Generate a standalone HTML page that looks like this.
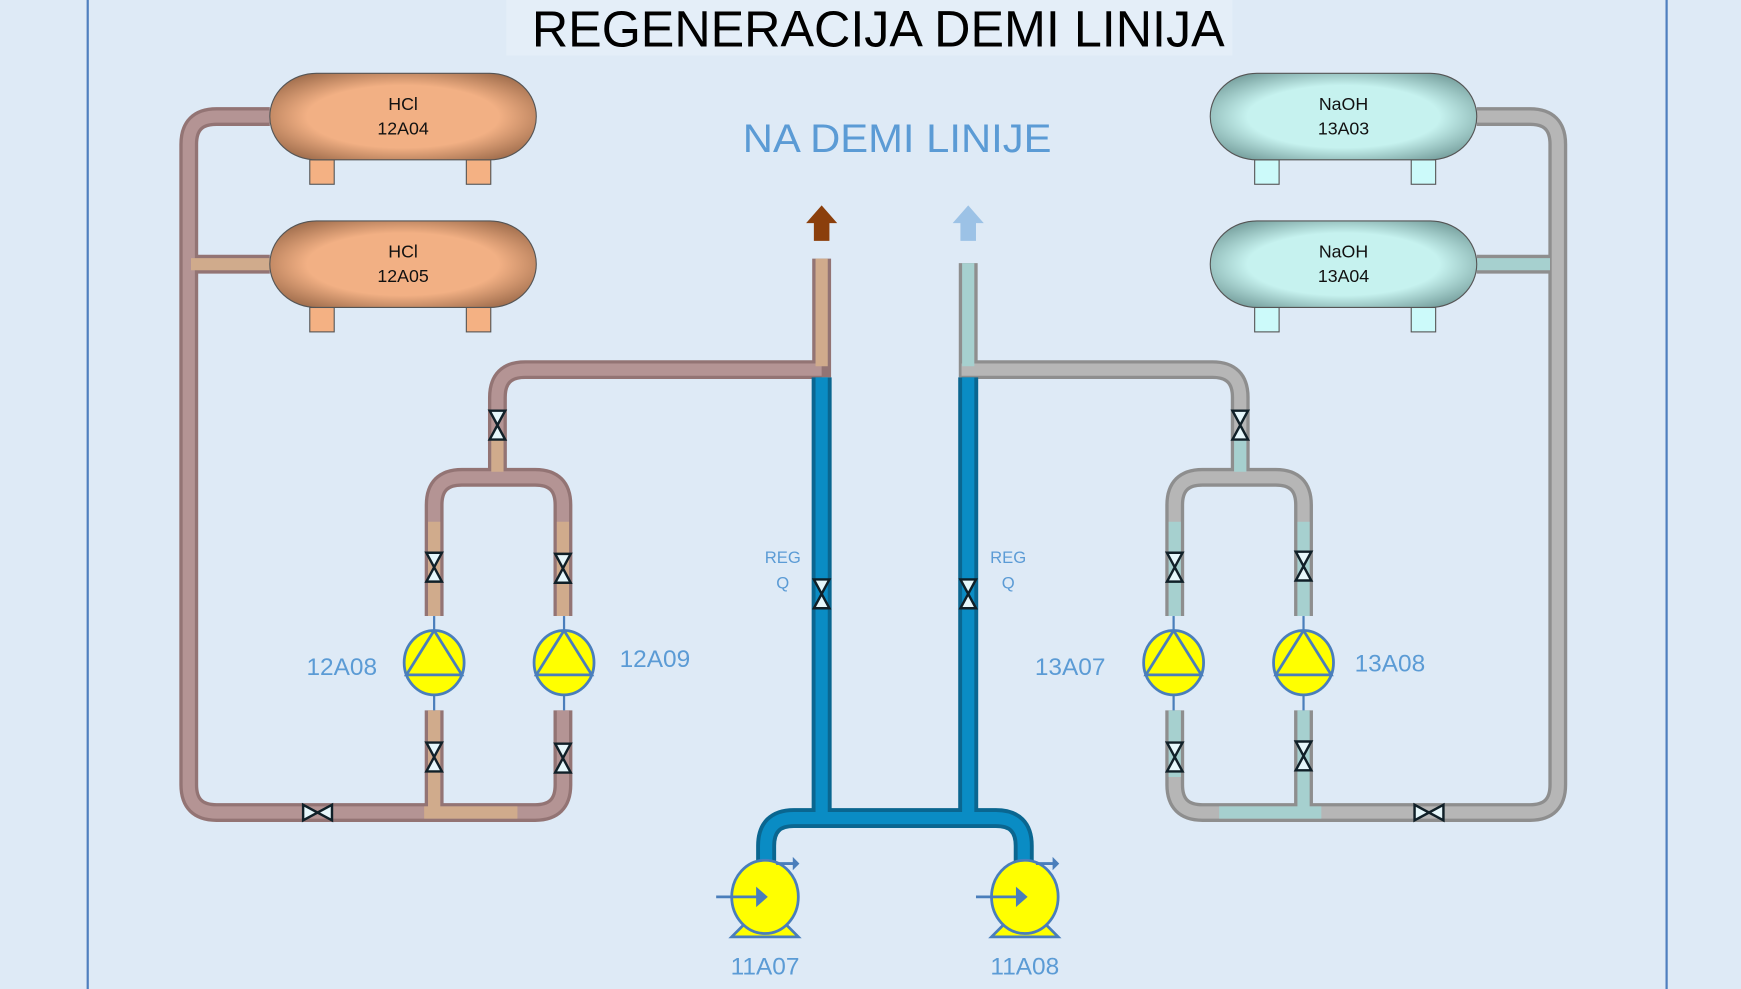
<!DOCTYPE html>
<html><head><meta charset="utf-8"><style>html,body{margin:0;padding:0;background:#deeaf6}svg{display:block}</style></head>
<body>
<svg width="1741" height="989" viewBox="0 0 1568 891" preserveAspectRatio="none" xmlns="http://www.w3.org/2000/svg" font-family="'Liberation Sans', sans-serif">
<defs>
<radialGradient id="hcl" cx="0.5" cy="0.5" r="0.6"><stop offset="0.6" stop-color="#f2b084"/><stop offset="1" stop-color="#a3704f"/></radialGradient>
<radialGradient id="naoh" cx="0.5" cy="0.5" r="0.6"><stop offset="0.6" stop-color="#c6f2ef"/><stop offset="1" stop-color="#7aa3a1"/></radialGradient>
<g id="vv"><path d="M-7,-13 L7,-13 L-7,13 L7,13 Z" fill="#e6f7fb" stroke="#102028" stroke-width="2.2" stroke-linejoin="miter"/></g>
<g id="vh"><path d="M-13,-7 L-13,7 L13,-7 L13,7 Z" fill="#e6f7fb" stroke="#102028" stroke-width="2.2"/></g>
<g id="pump"><ellipse cx="0" cy="0" rx="27" ry="29" fill="#ffff00" stroke="#4a7ebb" stroke-width="2.5"/><path d="M0,-29 L-25,11 L25,11 Z" fill="none" stroke="#4a7ebb" stroke-width="2.5"/></g>
<g id="cpump"><path d="M-30,36 L-16,22 L16,22 L30,36 Z" fill="#ffff00" stroke="#4a7ebb" stroke-width="2.5"/><ellipse cx="0" cy="0" rx="30" ry="33" fill="#ffff00" stroke="#4a7ebb" stroke-width="2.5"/><path d="M-44,0 L0,0" stroke="#4a7ebb" stroke-width="2.5"/><path d="M-7,-7 L1,0 L-7,7 Z" fill="#4a7ebb" stroke="#4a7ebb" stroke-width="2"/><path d="M10,-30 L27,-30" stroke="#4a7ebb" stroke-width="2.5"/><path d="M25,-36 L31,-30 L25,-24 Z" fill="#4a7ebb"/></g>
</defs>
<rect width="1568" height="891" fill="#deeaf6"/>
<rect x="456" y="0" width="654" height="50" fill="#e4eef8"/>
<line x1="79" y1="0" x2="79" y2="891" stroke="#4f7fbf" stroke-width="2"/>
<line x1="1501" y1="0" x2="1501" y2="891" stroke="#4f7fbf" stroke-width="2"/>
<text x="791" y="42" font-size="46" text-anchor="middle" textLength="624" lengthAdjust="spacingAndGlyphs" fill="#000">REGENERACIJA DEMI LINIJA</text>
<text x="808" y="137" font-size="36" text-anchor="middle" textLength="278" lengthAdjust="spacingAndGlyphs" fill="#5b9bd5">NA DEMI LINIJE</text>

<g fill="none" stroke-linecap="butt" stroke-linejoin="round">
<g stroke="#937474" stroke-width="17">
<path d="M243,105 L195,105 Q170,105 170,130 L170,707 Q170,732 195,732 L482,732 Q507,732 507,707 L507,640"/>
<path d="M170,238 L243,238"/>
<path d="M507,555 L507,455 Q507,430 482,430 L416,430 Q391,430 391,455 L391,555"/>
<path d="M391,640 L391,732"/>
<path d="M448,430 L448,358 Q448,333 473,333 L740,333"/>
<path d="M740,233 L740,340"/>
</g>
<g stroke="#b49494" stroke-width="11">
<path d="M243,105 L195,105 Q170,105 170,130 L170,707 Q170,732 195,732 L482,732 Q507,732 507,707 L507,640"/>
<path d="M507,555 L507,455 Q507,430 482,430 L416,430 Q391,430 391,455 L391,555"/>
<path d="M391,640 L391,732"/>
<path d="M448,430 L448,358 Q448,333 473,333 L740,333"/>
</g>
<g stroke="#d0ab8c" stroke-width="11">
<path d="M172,238 L243,238"/>
<path d="M382,732 L466,732"/>
<path d="M391,470 L391,555"/><path d="M507,470 L507,555"/>
<path d="M391,640 L391,728"/><path d="M448,395 L448,425"/>
<path d="M740,233 L740,330"/>
</g>
</g>

<g fill="none" stroke-linejoin="round">
<g stroke="#8e8e8e" stroke-width="17">
<path d="M1330,105 L1378,105 Q1403,105 1403,130 L1403,707 Q1403,732 1378,732 L1083,732 Q1058,732 1058,707 L1058,640"/>
<path d="M1330,238 L1403,238"/>
<path d="M1058,555 L1058,455 Q1058,430 1083,430 L1149,430 Q1174,430 1174,455 L1174,555"/>
<path d="M1174,640 L1174,732"/>
<path d="M1117,430 L1117,358 Q1117,333 1092,333 L866,333"/>
<path d="M872,237 L872,340"/>
</g>
<g stroke="#b6b6b6" stroke-width="11">
<path d="M1330,105 L1378,105 Q1403,105 1403,130 L1403,707 Q1403,732 1378,732 L1083,732 Q1058,732 1058,707 L1058,640"/>
<path d="M1058,555 L1058,455 Q1058,430 1083,430 L1149,430 Q1174,430 1174,455 L1174,555"/>
<path d="M1117,430 L1117,358 Q1117,333 1092,333 L866,333"/>
</g>
<g stroke="#a6d0cf" stroke-width="11">
<path d="M1330,238 L1396,238"/>
<path d="M1098,732 L1190,732"/>
<path d="M1058,470 L1058,555"/><path d="M1174,470 L1174,555"/>
<path d="M1058,640 L1058,700"/><path d="M1174,640 L1174,728"/>
<path d="M1117,395 L1117,425"/>
<path d="M872,237 L872,330"/>
</g>
</g>

<g fill="none" stroke-linejoin="round">
<g stroke="#0a6690" stroke-width="18">
<path d="M740,340 L740,737"/><path d="M872,340 L872,737"/>
<path d="M690,780 L690,762 Q690,737 715,737 L897,737 Q922,737 922,762 L922,780"/>
</g>
<g stroke="#0a8cc4" stroke-width="11">
<path d="M740,340 L740,737"/><path d="M872,340 L872,737"/>
<path d="M690,780 L690,762 Q690,737 715,737 L897,737 Q922,737 922,762 L922,780"/>
</g>
</g>

<path d="M726,201 L740,185 L754,201 L747,201 L747,217 L733,217 L733,201 Z" fill="#8b3f0c"/>
<path d="M858,201 L872,185 L886,201 L879,201 L879,217 L865,217 L865,201 Z" fill="#9cc2e6"/>

<g stroke="#555" stroke-width="1">
<rect x="279" y="144" width="22" height="22" fill="#f4b183"/><rect x="420" y="144" width="22" height="22" fill="#f4b183"/>
<rect x="279" y="277" width="22" height="22" fill="#f4b183"/><rect x="420" y="277" width="22" height="22" fill="#f4b183"/>
<rect x="243" y="66" width="240" height="78" rx="42" ry="39" fill="url(#hcl)"/>
<rect x="243" y="199" width="240" height="78" rx="42" ry="39" fill="url(#hcl)"/>
<rect x="1130" y="144" width="22" height="22" fill="#ccfafa"/><rect x="1271" y="144" width="22" height="22" fill="#ccfafa"/>
<rect x="1130" y="277" width="22" height="22" fill="#ccfafa"/><rect x="1271" y="277" width="22" height="22" fill="#ccfafa"/>
<rect x="1090" y="66" width="240" height="78" rx="42" ry="39" fill="url(#naoh)"/>
<rect x="1090" y="199" width="240" height="78" rx="42" ry="39" fill="url(#naoh)"/>
</g>
<g font-size="16" fill="#111" text-anchor="middle">
<text x="363" y="99">HCl</text><text x="363" y="121">12A04</text>
<text x="363" y="232">HCl</text><text x="363" y="254">12A05</text>
<text x="1210" y="99">NaOH</text><text x="1210" y="121">13A03</text>
<text x="1210" y="232">NaOH</text><text x="1210" y="254">13A04</text>
</g>

<g stroke="#4a7ebb" stroke-width="2">
<line x1="391" y1="555" x2="391" y2="570"/><line x1="391" y1="624" x2="391" y2="640"/>
<line x1="508" y1="555" x2="508" y2="570"/><line x1="508" y1="624" x2="508" y2="640"/>
<line x1="1057" y1="555" x2="1057" y2="570"/><line x1="1057" y1="624" x2="1057" y2="640"/>
<line x1="1174" y1="555" x2="1174" y2="570"/><line x1="1174" y1="624" x2="1174" y2="640"/>
</g>
<use href="#pump" x="391" y="597"/><use href="#pump" x="508" y="597"/>
<use href="#pump" x="1057" y="597"/><use href="#pump" x="1174" y="597"/>
<use href="#cpump" x="689" y="808"/><use href="#cpump" x="923" y="808"/>

<use href="#vv" x="448" y="383"/>
<use href="#vv" x="391" y="511"/><use href="#vv" x="507" y="512"/>
<use href="#vv" x="391" y="682"/><use href="#vv" x="507" y="683"/>
<use href="#vv" x="740" y="535"/><use href="#vv" x="872" y="535"/>
<use href="#vv" x="1117" y="383"/>
<use href="#vv" x="1058" y="511"/><use href="#vv" x="1174" y="510"/>
<use href="#vv" x="1058" y="682"/><use href="#vv" x="1174" y="681"/>
<use href="#vh" x="286" y="732"/><use href="#vh" x="1287" y="732"/>

<g fill="#5b9bd5">
<text x="276" y="608" font-size="22">12A08</text>
<text x="558" y="601" font-size="22">12A09</text>
<text x="932" y="608" font-size="22">13A07</text>
<text x="1220" y="605" font-size="22">13A08</text>
<text x="689" y="878" font-size="22" text-anchor="middle">11A07</text>
<text x="923" y="878" font-size="22" text-anchor="middle">11A08</text>
<g font-size="15" text-anchor="middle"><text x="705" y="507">REG</text><text x="705" y="530">Q</text><text x="908" y="507">REG</text><text x="908" y="530">Q</text></g>
</g>
</svg>
</body></html>
